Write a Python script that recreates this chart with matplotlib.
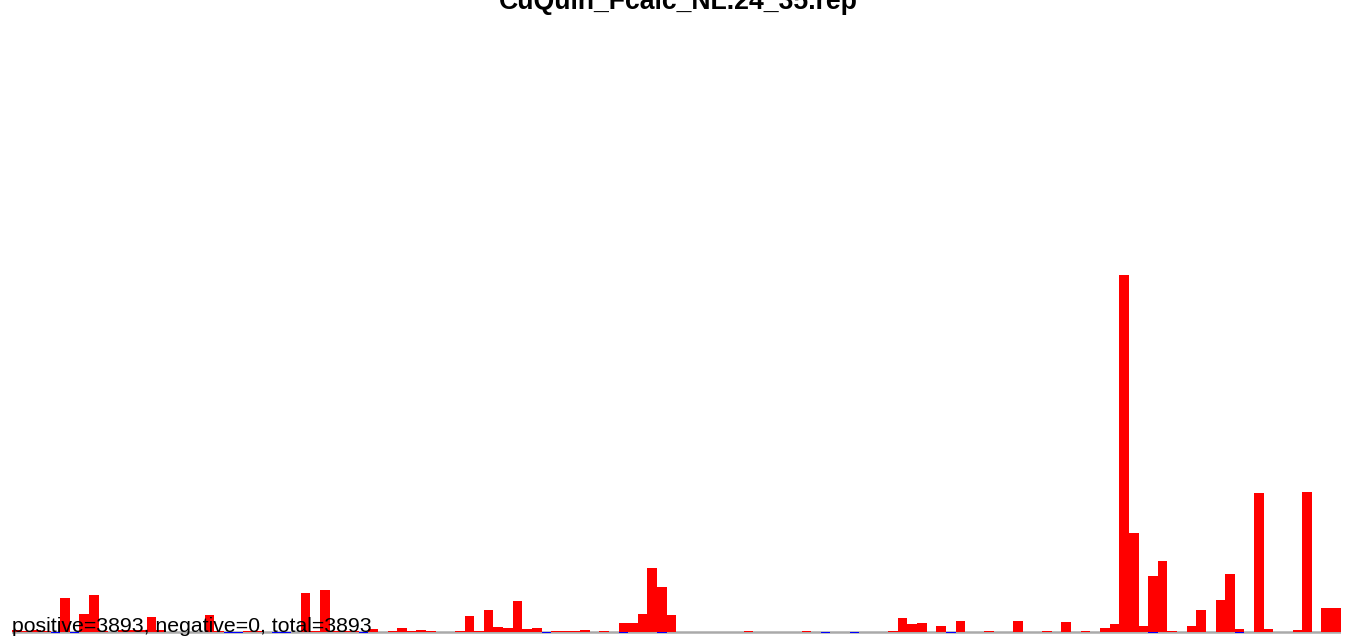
import numpy as np
import matplotlib
matplotlib.use("Agg")
import matplotlib.pyplot as plt

plt.rcParams['font.family'] = ['Liberation Sans', 'DejaVu Sans']

title = "CuQuin_Fcalc_NL.24_35.rep"
summary = "positive=3893, negative=0, total=3893"

# bar heights (arbitrary units)
heights = [
    2, 1, 2, 1, 0, 34, 0, 18, 37, 1,
    0.5, 2, 2, 2, 15, 2, 0, 0, 0, 0.5,
    17, 1, 0, 0, 1, 1, 0, 0, 0, 0,
    39, 1, 42, 1, 1, 1, 0, 3, 0, 1,
    4, 1, 2, 1, 0.5, 0.5, 1, 16, 1, 22,
    5, 4, 31, 3, 4, 0, 1, 1, 1, 2,
    0, 1, 0, 9, 9, 18, 64, 45, 17, 0,
    0.5, 0, 0.5, 0.5, 0.5, 0.5, 1.5, 0.5, 0.5, 0.5,
    0.5, 0.5, 1.5, 0, 0, 0.5, 0.5, 0, 0, 0,
    0, 1.5, 14, 8, 9, 0, 6, 0, 11, 0,
    0, 1, 0.5, 0, 11, 0, 0, 1, 0, 10,
    0.5, 1.5, 0.5, 4, 8, 357, 99, 6, 56, 71,
    1, 0, 6, 22, 0.5, 32, 58, 3, 0, 139,
    3, 0, 0, 2, 140, 0.5, 24, 24,
]
# bins that also carry a small blue mark at the baseline
blue_bins = [4, 6, 22, 23, 27, 28, 36, 55, 63, 67, 84, 87, 97, 118, 127]

W, H = 1357, 643
fig = plt.figure(figsize=(W / 100, H / 100), dpi=100)

n = len(heights)
x0, x1 = 12, 1340.7
ax = fig.add_axes([x0 / W, 0, (x1 - x0) / W, (H - 30) / H])
ax.set_xlim(0, n)
ax.set_ylim(-11, 602)
ax.axis("off")

idx = np.arange(n)
ax.axhline(0, color="#aaaaaa", lw=1.8, zorder=1)
ax.bar(blue_bins, [-1.2] * len(blue_bins), width=1, align="edge",
       color="#0000ff", linewidth=0, zorder=2)
ax.bar(idx, heights, width=1, align="edge", bottom=0,
       color="#ff0000", linewidth=0, zorder=3)

fig.text(0.5, 1 - 9 / H, title, ha="center", va="baseline",
         fontsize=19.2, fontweight="bold")
fig.text(12 / W, 1 - 632 / H, summary, ha="left", va="baseline",
         fontsize=15.3, zorder=5)

fig.savefig("out.png", dpi=100)
